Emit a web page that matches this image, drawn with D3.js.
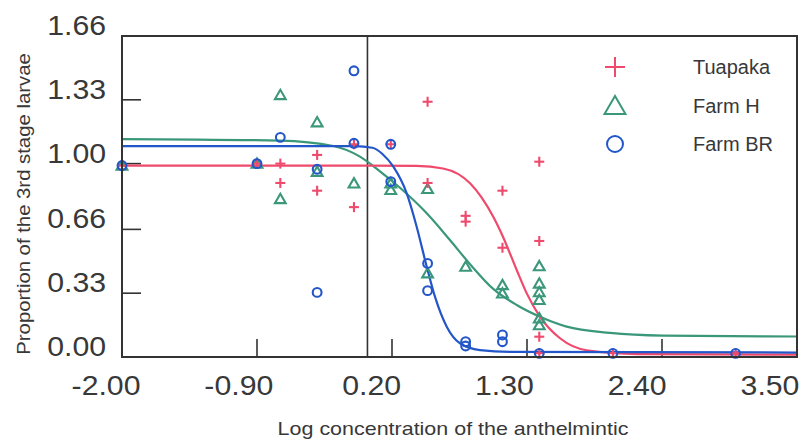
<!DOCTYPE html>
<html>
<head>
<meta charset="utf-8">
<script src="https://cdn.jsdelivr.net/npm/d3@7"></script>
<style>
  html, body { margin: 0; padding: 0; background: #fff; }
  svg { display: block; }
  text { font-family: "Liberation Sans", Arial, Helvetica, sans-serif; fill: #383838; }
</style>
</head>
<body>
<svg id="chart" width="807" height="441"></svg>
<script>
// ---------------- data ----------------
const xTicks = [-2.00, -0.90, 0.20, 1.30, 2.40, 3.50];
const yTicks = [0.00, 0.33, 0.66, 1.00, 1.33, 1.66];
const seriesNames = ["Tuapaka", "Farm H", "Farm BR"];

// Tuapaka (+)
const tuapakaX = [-2.0, -0.9, -0.71, -0.71, -0.41, -0.41, -0.11, -0.11, 0.19, 0.49, 0.49, 0.80, 0.80, 1.10, 1.10, 1.40, 1.40, 1.40, 1.40, 2.0, 3.0];
const tuapakaY = [0.99, 1.00, 1.00, 0.90, 1.045, 0.86, 1.10, 0.775, 1.10, 1.32, 0.90, 0.73, 0.70, 0.86, 0.565, 1.01, 0.60, 0.105, 0.02, 0.02, 0.02];

// Farm H (triangles)
const farmHX = [-2.0, -0.9, -0.71, -0.71, -0.41, -0.41, -0.11, 0.19, 0.19, 0.49, 0.49, 0.80, 1.10, 1.10, 1.40, 1.40, 1.40, 1.40, 1.40, 1.40];
const farmHY = [0.99, 1.00, 1.355, 0.817, 1.214, 0.958, 0.898, 0.898, 0.864, 0.869, 0.433, 0.467, 0.372, 0.329, 0.47, 0.38, 0.335, 0.295, 0.20, 0.165];

// Farm BR (circles)
const farmBRX = [-2.0, -0.9, -0.71, -0.41, -0.41, -0.11, -0.11, 0.19, 0.19, 0.49, 0.49, 0.80, 0.80, 1.10, 1.10, 1.40, 2.0, 3.0];
const farmBRY = [0.99, 1.00, 1.136, 0.971, 0.334, 1.48, 1.105, 1.10, 0.907, 0.484, 0.343, 0.079, 0.057, 0.114, 0.079, 0.019, 0.019, 0.019];

// fitted curves
const tuapakaCurveX = [-2.0, 0.0, 0.40, 0.616, 0.836, 1.025, 1.104, 1.216, 1.298, 1.406, 1.569, 1.786, 2.2, 3.5];
const tuapakaCurveY = [0.99, 0.99, 0.988, 0.975, 0.898, 0.725, 0.622, 0.45, 0.329, 0.208, 0.097, 0.035, 0.015, 0.012];

const farmHCurveX = [-2.0, -0.713, -0.278, -0.061, 0.102, 0.265, 0.483, 0.672, 0.836, 1.025, 1.216, 1.406, 1.623, 1.976, 2.408, 3.5];
const farmHCurveY = [1.127, 1.119, 1.091, 1.036, 0.96, 0.875, 0.743, 0.605, 0.48, 0.352, 0.269, 0.208, 0.157, 0.125, 0.111, 0.106];

const farmBRCurveX = [-2.0, -0.1, 0.04, 0.122, 0.211, 0.32, 0.401, 0.483, 0.55, 0.646, 0.754, 0.917, 1.161, 3.5];
const farmBRCurveY = [1.09, 1.09, 1.082, 1.05, 0.984, 0.846, 0.674, 0.467, 0.312, 0.157, 0.071, 0.036, 0.027, 0.023];

// ---------------- drawing ----------------
const colors = { tuapaka: "#ef4a6c", farmH: "#3a977a", farmBR: "#2356c8" };
const frameColor = "#333";
const fmt = d => d.toFixed(2);

const svg = d3.select("#chart");
svg.append("rect").attr("width", 807).attr("height", 441).attr("fill", "#fff");

const L = 122, R = 797, T = 36, B = 357;
const x = d3.scaleLinear().domain([-2, 3.5]).range([L, R]);
const y = d3.scaleLinear().domain([0, 1.66]).range([B, T]);
// labels in the original are slightly offset / compressed relative to tick marks
const xLabel = d3.scaleLinear().domain([-2, 3.5]).range([106, 770]);

// inner ticks
const inner = svg.append("g");
inner.selectAll("line.yt").data(yTicks.filter(v => v > 0 && v < 1.66)).join("line")
  .attr("x1", L).attr("x2", L + 19)
  .attr("y1", d => y(d)).attr("y2", d => y(d))
  .attr("stroke", frameColor).attr("stroke-width", 1.6);
inner.selectAll("line.xt").data(xTicks.filter(v => v > -2 && v < 3.5)).join("line")
  .attr("x1", d => x(d)).attr("x2", d => x(d))
  .attr("y1", B).attr("y2", B - 18)
  .attr("stroke", frameColor).attr("stroke-width", 1.6);

// zero line
svg.append("line")
  .attr("x1", x(0)).attr("x2", x(0)).attr("y1", T).attr("y2", B)
  .attr("stroke", frameColor).attr("stroke-width", 1.6);

// curves
const line = d3.line().x(d => x(d[0])).y(d => y(d[1])).curve(d3.curveMonotoneX);
const curves = [
  { xs: farmHCurveX, ys: farmHCurveY, c: colors.farmH },
  { xs: tuapakaCurveX, ys: tuapakaCurveY, c: colors.tuapaka },
  { xs: farmBRCurveX, ys: farmBRCurveY, c: colors.farmBR }
];
curves.forEach(cv => {
  svg.append("path")
    .datum(d3.zip(cv.xs, cv.ys))
    .attr("d", line)
    .attr("fill", "none")
    .attr("stroke", cv.c)
    .attr("stroke-width", 2.2);
});

// markers
const triSym = d3.symbol().type(d3.symbolTriangle);
function drawTriangles(g, xs, ys, size, color, sw) {
  g.selectAll(null).data(d3.zip(xs, ys)).join("path")
    .attr("transform", d => `translate(${x(d[0])},${y(d[1]) + 1})`)
    .attr("d", triSym.size(size)())
    .attr("fill", "none").attr("stroke", color).attr("stroke-width", sw);
}
function drawPlus(g, xs, ys, half, color, sw) {
  const sel = g.selectAll(null).data(d3.zip(xs, ys)).join("g")
    .attr("transform", d => `translate(${x(d[0])},${y(d[1])})`);
  sel.append("line").attr("x1", -half).attr("x2", half).attr("y1", 0).attr("y2", 0)
    .attr("stroke", color).attr("stroke-width", sw);
  sel.append("line").attr("x1", 0).attr("x2", 0).attr("y1", -half).attr("y2", half)
    .attr("stroke", color).attr("stroke-width", sw);
}
function drawCircles(g, xs, ys, r, color, sw) {
  g.selectAll(null).data(d3.zip(xs, ys)).join("circle")
    .attr("cx", d => x(d[0])).attr("cy", d => y(d[1])).attr("r", r)
    .attr("fill", "none").attr("stroke", color).attr("stroke-width", sw);
}
const pts = svg.append("g");
drawTriangles(pts.append("g"), farmHX, farmHY, 50, colors.farmH, 2.1);
drawPlus(pts.append("g"), tuapakaX, tuapakaY, 5, colors.tuapaka, 2.1);
drawCircles(pts.append("g"), farmBRX, farmBRY, 4.4, colors.farmBR, 2.1);

// frame
svg.append("rect")
  .attr("x", L).attr("y", T).attr("width", R - L).attr("height", B - T)
  .attr("fill", "none").attr("stroke", frameColor).attr("stroke-width", 2);

// tick labels
svg.selectAll("g.ylab").data(yTicks).join("g")
  .attr("transform", d => `translate(106,${y(d) - 1})`)
  .append("text")
  .attr("text-anchor", "end")
  .attr("font-size", 28)
  .attr("transform", "scale(1.08,1)")
  .text(fmt);

svg.selectAll("g.xlab").data(xTicks).join("g")
  .attr("transform", d => `translate(${xLabel(d)},395)`)
  .append("text")
  .attr("text-anchor", "middle")
  .attr("font-size", 28)
  .attr("transform", "scale(1.08,1)")
  .text(fmt);

// axis titles
svg.append("g").attr("transform", "translate(453,435)")
  .append("text").attr("text-anchor", "middle").attr("font-size", 19)
  .attr("transform", "scale(1.13,1)")
  .text("Log concentration of the anthelmintic");

svg.append("g").attr("transform", "translate(30,204) rotate(-90)")
  .append("text").attr("text-anchor", "middle").attr("font-size", 19)
  .attr("transform", "scale(1.07,1)")
  .text("Proportion of the 3rd stage larvae");

// legend
const legendY = [67, 106, 144];
const lg = svg.append("g");
lg.append("line").attr("x1", 605).attr("x2", 625).attr("y1", legendY[0]).attr("y2", legendY[0])
  .attr("stroke", colors.tuapaka).attr("stroke-width", 2);
lg.append("line").attr("x1", 615).attr("x2", 615).attr("y1", legendY[0] - 10).attr("y2", legendY[0] + 10)
  .attr("stroke", colors.tuapaka).attr("stroke-width", 2);
lg.append("path").attr("transform", `translate(615,${legendY[1] + 2})`)
  .attr("d", d3.symbol().type(d3.symbolTriangle).size(190)())
  .attr("fill", "none").attr("stroke", colors.farmH).attr("stroke-width", 2);
lg.append("circle").attr("cx", 615).attr("cy", legendY[2]).attr("r", 8)
  .attr("fill", "none").attr("stroke", colors.farmBR).attr("stroke-width", 2);
lg.selectAll("text").data(seriesNames).join("text")
  .attr("x", 693).attr("y", (d, i) => legendY[i] + 7)
  .attr("font-size", 20)
  .text(d => d);
</script>
</body>
</html>
